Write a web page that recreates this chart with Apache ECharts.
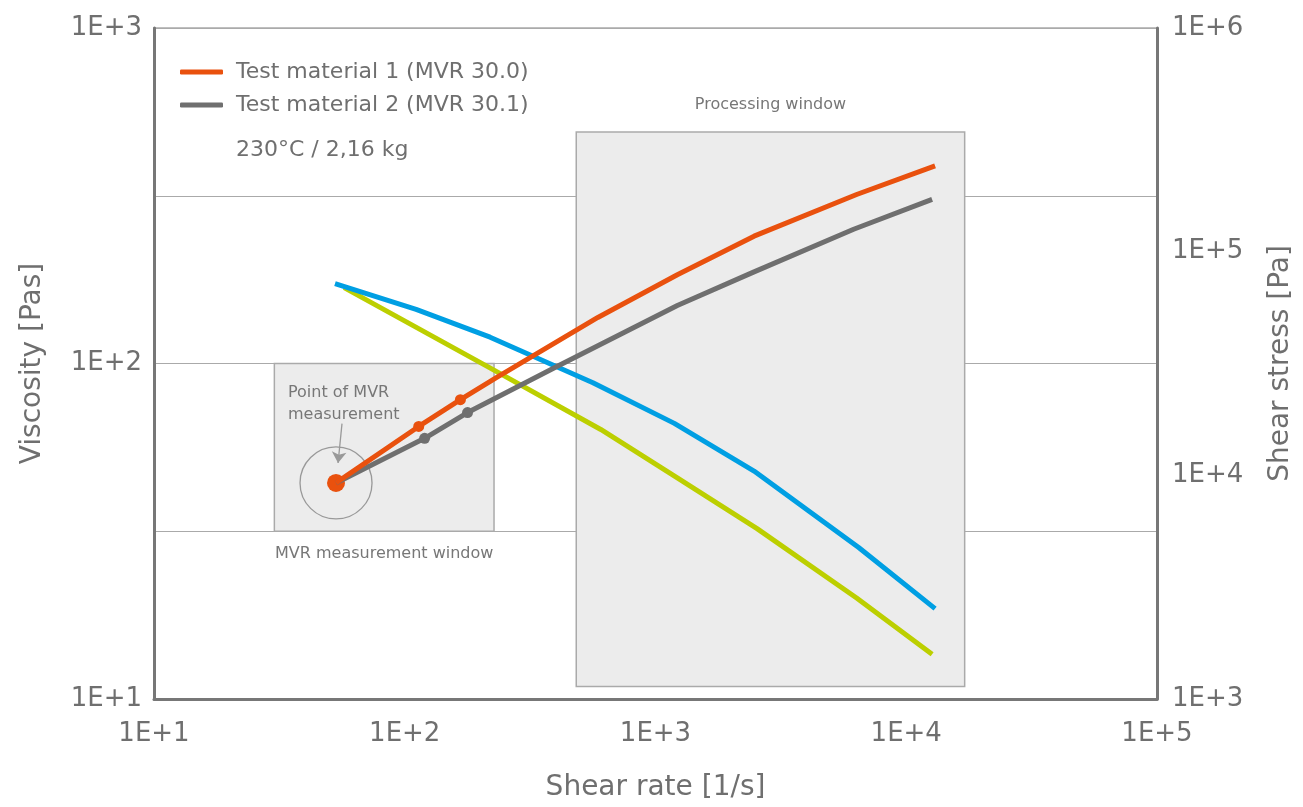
<!DOCTYPE html>
<html>
<head>
<meta charset="utf-8">
<script src="https://cdn.jsdelivr.net/npm/echarts@6/dist/echarts.min.js"></script>
<style>
  html, body { margin: 0; padding: 0; background: #fff; }
  #chart { width: 1303px; height: 807px; }
</style>
</head>
<body>
<div id="chart"></div>
<script>
// viscosity curves (left axis, Pas)
var blueRate = [52.7, 111, 219, 563, 1189, 2472, 6460, 13030];
var blueVisc = [172.9, 144.9, 119.8, 87.6, 66.3, 47.8, 28.3, 18.6];
var greenRate = [57.3, 215, 605, 1222, 2541, 6340, 12680];
var greenVisc = [168.3, 97.7, 63.6, 45.6, 32.2, 20.0, 13.6];

// shear stress curves (right axis, Pa)
var orangeRate = [53.2, 113.7, 166.7, 231, 589, 1222, 2472, 6340, 13030];
var orangeStress = [9250, 16540, 21800, 27270, 50800, 78800, 117300, 180100, 242100];
var grayRate = [53.2, 120, 178, 408, 1222, 2472, 6170, 12680];
var grayStress = [9250, 14640, 19080, 30830, 57430, 81250, 126000, 171200];
var orangeMarkers = [1, 2];
var grayMarkers = [1, 2];

// windows: [rateFrom, rateTo], [viscFrom, viscTo]
var mvrWindowRate = [30.2, 227];
var mvrWindowVisc = [31.62, 100];
var procWindowRate = [483, 17100];
var procWindowVisc = [10.9, 490];

// arrow to MVR point (rate, viscosity)
var arrowFrom = [56.2, 66.2];
var arrowTo = [54.2, 50.5];

var legendNames = ['Test material 1 (MVR 30.0)', 'Test material 2 (MVR 30.1)'];

var FONT = 'DejaVu Sans';
var TXT = '#6f6f6f';

function pairs(xs, ys) {
    var out = [];
    for (var i = 0; i < xs.length; i++) out.push([xs[i], ys[i]]);
    return out;
}
function pick(xs, ys, idx) {
    return idx.map(function (i) { return [xs[i], ys[i]]; });
}
function expLabel(v) {
    return '1E+' + Math.round(Math.log10(v));
}

var chart = echarts.init(document.getElementById('chart'));

var option = {
    backgroundColor: '#fff',
    animation: false,
    textStyle: { fontFamily: FONT },
    grid: {
        left: 154, right: 141, top: 28, bottom: 102,
        show: true, borderColor: '#aaa', borderWidth: 1.5
    },
    legend: {
        data: legendNames,
        orient: 'vertical',
        left: 180,
        top: 59,
        padding: 0,
        icon: 'roundRect',
        itemWidth: 43,
        itemHeight: 5,
        itemGap: 7,
        textStyle: { color: TXT, fontSize: 22, fontFamily: FONT, lineHeight: 26, padding: [0, 0, 0, 8] }
    },
    xAxis: {
        type: 'log',
        logBase: 10,
        min: 10,
        max: 100000,
        name: 'Shear rate [1/s]',
        nameLocation: 'middle',
        nameGap: 75,
        nameTextStyle: { color: TXT, fontSize: 28, fontFamily: FONT },
        axisLine: { show: true, lineStyle: { color: '#777', width: 3 } },
        axisTick: { show: false },
        axisLabel: { color: TXT, fontSize: 26, margin: 22, formatter: expLabel },
        splitLine: { show: false }
    },
    yAxis: [
        {
            type: 'log',
            logBase: 10,
            min: 10,
            max: 1000,
            position: 'left',
            name: 'Viscosity [Pas]',
            nameLocation: 'middle',
            nameGap: 107,
            nameTextStyle: { color: TXT, fontSize: 28, fontFamily: FONT },
            axisLine: { show: true, lineStyle: { color: '#777', width: 3 } },
            axisTick: { show: false },
            axisLabel: { color: TXT, fontSize: 26, margin: 12, formatter: expLabel },
            splitLine: { show: false }
        },
        {
            type: 'log',
            logBase: 10,
            min: 1000,
            max: 1000000,
            position: 'right',
            name: 'Shear stress [Pa]',
            nameLocation: 'middle',
            nameGap: 110,
            nameTextStyle: { color: TXT, fontSize: 28, fontFamily: FONT },
            axisLine: { show: true, lineStyle: { color: '#777', width: 3 } },
            axisTick: { show: false },
            axisLabel: { color: TXT, fontSize: 26, margin: 15, formatter: expLabel },
            splitLine: { show: false }
        },
        {
            // half-decade grid of the viscosity axis, in log10 units
            type: 'value',
            min: 1,
            max: 3,
            interval: 0.5,
            position: 'left',
            axisLine: { show: false },
            axisTick: { show: false },
            axisLabel: { show: false },
            splitLine: { show: true, lineStyle: { color: '#aaa', width: 1.2 } }
        }
    ],
    graphic: [
        {
            type: 'text', left: 236, top: 139, z: 100,
            style: { text: '230°C / 2,16 kg', fill: TXT, font: '22px "DejaVu Sans"' }
        },
        {
            type: 'text', left: 288, top: 382, z: 100,
            style: { text: 'Point of MVR\nmeasurement', fill: '#777', font: '16px "DejaVu Sans"', lineHeight: 22 }
        }
    ],
    series: [
        {
            name: 'windows',
            type: 'line',
            yAxisIndex: 0,
            data: [],
            markArea: {
                silent: true,
                itemStyle: { color: '#ececec', borderColor: '#aaa', borderWidth: 1.5 },
                label: { color: '#777', fontSize: 16, fontFamily: FONT },
                data: [
                    [
                        { name: 'MVR measurement window', coord: [mvrWindowRate[0], mvrWindowVisc[0]],
                          label: { position: 'bottom', distance: 14 } },
                        { coord: [mvrWindowRate[1], mvrWindowVisc[1]] }
                    ],
                    [
                        { name: 'Processing window', coord: [procWindowRate[0], procWindowVisc[1]],
                          label: { position: 'top', distance: 18 } },
                        { coord: [procWindowRate[1], procWindowVisc[0]] }
                    ]
                ]
            },
            markLine: {
                silent: true,
                symbol: ['none', 'arrow'],
                symbolSize: 11,
                label: { show: false },
                lineStyle: { color: '#999', width: 1.3, type: 'solid' },
                data: [[{ coord: arrowFrom }, { coord: arrowTo }]]
            }
        },
        {
            name: 'ring',
            type: 'scatter',
            yAxisIndex: 1,
            symbol: 'circle',
            symbolSize: 72,
            itemStyle: { color: 'rgba(0,0,0,0)', borderColor: '#999', borderWidth: 1.3, opacity: 1 },
            data: [[orangeRate[0], orangeStress[0]]]
        },
        {
            name: 'Viscosity 2',
            type: 'line',
            yAxisIndex: 0,
            showSymbol: false,
            lineStyle: { color: '#bccf00', width: 5 },
            itemStyle: { color: '#bccf00' },
            data: pairs(greenRate, greenVisc)
        },
        {
            name: 'Viscosity 1',
            type: 'line',
            yAxisIndex: 0,
            showSymbol: false,
            lineStyle: { color: '#009fe3', width: 5 },
            itemStyle: { color: '#009fe3' },
            data: pairs(blueRate, blueVisc)
        },
        {
            name: legendNames[1],
            type: 'line',
            yAxisIndex: 1,
            showSymbol: false,
            lineStyle: { color: '#6f6f6f', width: 5 },
            itemStyle: { color: '#6f6f6f' },
            data: pairs(grayRate, grayStress)
        },
        {
            name: legendNames[0],
            type: 'line',
            yAxisIndex: 1,
            showSymbol: false,
            lineStyle: { color: '#e9510e', width: 5 },
            itemStyle: { color: '#e9510e' },
            data: pairs(orangeRate, orangeStress)
        },
        {
            name: 'gray markers',
            type: 'scatter',
            yAxisIndex: 1,
            symbolSize: 11,
            itemStyle: { color: '#6f6f6f', opacity: 1 },
            data: pick(grayRate, grayStress, grayMarkers)
        },
        {
            name: 'orange markers',
            type: 'scatter',
            yAxisIndex: 1,
            symbolSize: 11,
            itemStyle: { color: '#e9510e', opacity: 1 },
            data: pick(orangeRate, orangeStress, orangeMarkers)
        },
        {
            name: 'MVR point',
            type: 'scatter',
            yAxisIndex: 1,
            symbolSize: 18,
            itemStyle: { color: '#e9510e', opacity: 1 },
            data: [[orangeRate[0], orangeStress[0]]]
        }
    ]
};

chart.setOption(option);
</script>
</body>
</html>
